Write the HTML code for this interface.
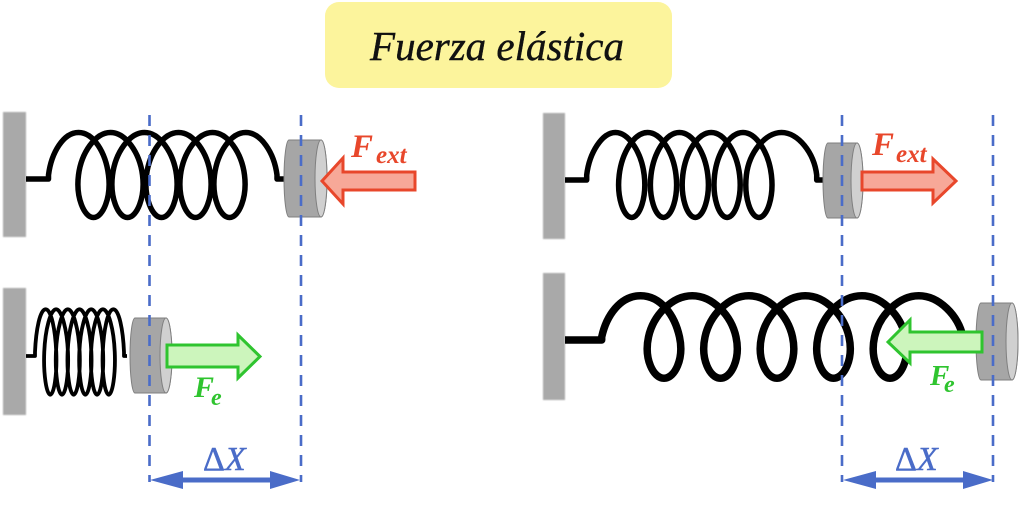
<!DOCTYPE html>
<html><head><meta charset="utf-8"><style>
html,body{margin:0;padding:0;background:#fff;}
svg{display:block;}
text{font-family:"Liberation Serif",serif;}
</style></head><body>
<svg width="1024" height="511" viewBox="0 0 1024 511" xmlns="http://www.w3.org/2000/svg">
<defs>
<filter id="bl" x="-20%" y="-5%" width="140%" height="110%"><feGaussianBlur stdDeviation="0.8"/></filter>
</defs>
<rect x="0" y="0" width="1024" height="511" fill="#fff"/>

<!-- title -->
<rect x="325" y="2" width="347" height="86" rx="14" fill="#fcf49c"/>
<text x="497" y="60" font-size="41" font-style="italic" text-anchor="middle" fill="#111" stroke="#111" stroke-width="0.4">Fuerza elástica</text>

<!-- walls -->
<g fill="#a9a9a9" filter="url(#bl)">
<rect x="3" y="112" width="23" height="125"/>
<rect x="3" y="288" width="23" height="127"/>
<rect x="543" y="113" width="22" height="126"/>
<rect x="543" y="273" width="22" height="127"/>
</g>

<!-- springs -->
<g fill="none" stroke="#000" stroke-linejoin="round">
<path stroke-width="5.5" d="M26,179 H48.5 V175
c2.83,-22.25 14.86,-42.5 30,-42.5 c15.14,0 27.17,20.25 30,42.5
c2.83,22.25 -5.53,42.5 -15,42.5 c-9.47,0 -17.83,-20.25 -15,-42.5
c2.83,-22.25 16.86,-42.5 32,-42.5 c15.14,0 29.17,20.25 32,42.5
c2.83,22.25 -5.53,42.5 -15,42.5 c-9.47,0 -17.83,-20.25 -15,-42.5
c2.83,-22.25 16.86,-42.5 32,-42.5 c15.14,0 29.17,20.25 32,42.5
c2.83,22.25 -5.53,42.5 -15,42.5 c-9.47,0 -17.83,-20.25 -15,-42.5
c2.83,-22.25 16.86,-42.5 32,-42.5 c15.14,0 29.17,20.25 32,42.5
c2.83,22.25 -5.53,42.5 -15,42.5 c-9.47,0 -17.83,-20.25 -15,-42.5
c2.83,-22.25 16.86,-42.5 32,-42.5 c15.14,0 29.17,20.25 32,42.5
c2.83,22.25 -5.53,42.5 -15,42.5 c-9.47,0 -17.83,-20.25 -15,-42.5
c2.83,-22.25 16.11,-42.5 31.25,-42.5 c15.14,0 28.42,20.25 31.25,42.5
V179 H286"/>

<path stroke-width="5.5" d="M565,180 H586.7 V175
c2.65,-22.25 15.39,-42.5 28.75,-42.5 c13.36,0 26.1,20.25 28.75,42.5
c2.65,22.25 -4.44,42.5 -12.5,42.5 c-8.06,0 -15.15,-20.25 -12.5,-42.5
c2.65,-22.25 15.04,-42.5 28.4,-42.5 c13.36,0 25.75,20.25 28.4,42.5
c2.65,22.25 -4.44,42.5 -12.5,42.5 c-8.06,0 -15.15,-20.25 -12.5,-42.5
c2.65,-22.25 15.04,-42.5 28.4,-42.5 c13.36,0 25.75,20.25 28.4,42.5
c2.65,22.25 -4.44,42.5 -12.5,42.5 c-8.06,0 -15.15,-20.25 -12.5,-42.5
c2.65,-22.25 15.04,-42.5 28.4,-42.5 c13.36,0 25.75,20.25 28.4,42.5
c2.65,22.25 -4.44,42.5 -12.5,42.5 c-8.06,0 -15.15,-20.25 -12.5,-42.5
c2.65,-22.25 15.04,-42.5 28.4,-42.5 c13.36,0 25.75,20.25 28.4,42.5
c2.65,22.25 -4.44,42.5 -12.5,42.5 c-8.06,0 -15.15,-20.25 -12.5,-42.5
c2.65,-22.25 18.65,-42.5 35.15,-42.5 c16.5,0 32.5,20.25 35.15,42.5
V180 H825"/>

<path stroke-width="3.8" d="M26,356 H35 V352
c0.97,-22.36 4.99,-42.7 10.625,-42.7 c5.64,0 9.66,20.34 10.625,42.7
c0.97,22.36 -2.3,42.7 -6,42.7 c-3.7,0 -6.97,-20.34 -6,-42.7
c0.97,-22.36 6.21,-42.7 11.85,-42.7 c5.64,0 10.88,20.34 11.85,42.7
c0.97,22.36 -2.3,42.7 -6,42.7 c-3.7,0 -6.97,-20.34 -6,-42.7
c0.97,-22.36 6.21,-42.7 11.85,-42.7 c5.64,0 10.88,20.34 11.85,42.7
c0.97,22.36 -2.3,42.7 -6,42.7 c-3.7,0 -6.97,-20.34 -6,-42.7
c0.97,-22.36 6.21,-42.7 11.85,-42.7 c5.64,0 10.88,20.34 11.85,42.7
c0.97,22.36 -2.3,42.7 -6,42.7 c-3.7,0 -6.97,-20.34 -6,-42.7
c0.97,-22.36 6.21,-42.7 11.85,-42.7 c5.64,0 10.88,20.34 11.85,42.7
c0.97,22.36 -2.3,42.7 -6,42.7 c-3.7,0 -6.97,-20.34 -6,-42.7
c0.97,-22.36 6.21,-42.7 11.85,-42.7 c5.64,0 10.88,20.34 11.85,42.7
c0.97,22.36 -2.3,42.7 -6,42.7 c-3.7,0 -6.97,-20.34 -6,-42.7
c0.97,-22.36 4.99,-42.7 10.625,-42.7 c5.64,0 9.66,20.34 10.625,42.7
V356 H127"/>

<path stroke-width="7.5" d="M565,340 H601.7 V337
c4.71,-21.62 18.67,-41.3 38.9,-41.3 c20.23,0 34.19,19.68 38.9,41.3
c4.71,21.62 -4.69,41.3 -15.5,41.3 c-10.81,0 -20.21,-19.68 -15.5,-41.3
c4.71,-21.62 23.52,-41.3 43.75,-41.3 c20.23,0 39.04,19.68 43.75,41.3
c4.71,21.62 -4.69,41.3 -15.5,41.3 c-10.81,0 -20.21,-19.68 -15.5,-41.3
c4.71,-21.62 23.52,-41.3 43.75,-41.3 c20.23,0 39.04,19.68 43.75,41.3
c4.71,21.62 -4.69,41.3 -15.5,41.3 c-10.81,0 -20.21,-19.68 -15.5,-41.3
c4.71,-21.62 23.52,-41.3 43.75,-41.3 c20.23,0 39.04,19.68 43.75,41.3
c4.71,21.62 -4.69,41.3 -15.5,41.3 c-10.81,0 -20.21,-19.68 -15.5,-41.3
c4.71,-21.62 23.52,-41.3 43.75,-41.3 c20.23,0 39.04,19.68 43.75,41.3
c4.71,21.62 -4.69,41.3 -15.5,41.3 c-10.81,0 -20.21,-19.68 -15.5,-41.3
c4.71,-21.62 24.02,-41.3 44.25,-41.3 c20.23,0 39.54,19.68 44.25,41.3"/>
</g>

<!-- blocks (cylinders) -->
<g stroke="#7f7f7f" stroke-width="1">
<path fill="#a6a6a6" d="M289,140 H321 A6,38.5 0 0 1 321,217 H289 A5,38.5 0 0 1 289,140 Z"/>
<ellipse cx="321" cy="178.5" rx="6" ry="38.5" fill="#d0d0d0"/>
<path fill="#a6a6a6" d="M828,143 H857 A6,37.5 0 0 1 857,218 H828 A5,37.5 0 0 1 828,143 Z"/>
<ellipse cx="857" cy="180.5" rx="6" ry="37.5" fill="#d0d0d0"/>
<path fill="#a6a6a6" d="M135,318 H166 A6,37.5 0 0 1 166,393 H135 A5,37.5 0 0 1 135,318 Z"/>
<ellipse cx="166" cy="355.5" rx="6" ry="37.5" fill="#d0d0d0"/>
<path fill="#a6a6a6" d="M981,303 H1012 A6,38.5 0 0 1 1012,380 H981 A5,38.5 0 0 1 981,303 Z"/>
<ellipse cx="1012" cy="341.5" rx="6" ry="38.5" fill="#d0d0d0"/>
</g>

<!-- dashed reference lines -->
<g stroke="#4a6cc8" stroke-width="2.6" stroke-dasharray="11 9" fill="none">
<line x1="149.5" y1="115" x2="149.5" y2="482"/>
<line x1="301" y1="115" x2="301" y2="482"/>
<line x1="842" y1="115" x2="842" y2="482"/>
<line x1="993" y1="115" x2="993" y2="482"/>
</g>

<!-- force arrows -->
<g stroke-width="3" stroke-linejoin="miter">
<polygon fill="#f7a898" stroke="#e8472b" points="322,181 343,158 343,172 415,172 415,190 343,190 343,204"/>
<polygon fill="#f7a898" stroke="#e8472b" points="862,172 933,172 933,159 956,181 933,203 933,190 862,190"/>
<polygon fill="#ccf5bc" stroke="#2fc42f" points="167,345 238,345 238,335 260,356.5 238,378 238,367 167,367"/>
<polygon fill="#ccf5bc" stroke="#2fc42f" points="888,342 910,320 910,332 982,332 982,352 910,352 910,363"/>
</g>

<!-- force labels -->
<g font-weight="bold" font-style="italic">
<text x="351" y="157" font-size="33" fill="#e8472b">F</text>
<text x="376" y="163" font-size="25" fill="#e8472b">ext</text>
<text x="872" y="155" font-size="33" fill="#e8472b">F</text>
<text x="896" y="162" font-size="25" fill="#e8472b">ext</text>
<text x="194" y="397" font-size="30" fill="#2fc42f">F</text>
<text x="211" y="405" font-size="24" fill="#2fc42f">e</text>
<text x="930" y="385" font-size="29" fill="#2fc42f">F</text>
<text x="944" y="392" font-size="24" fill="#2fc42f">e</text>
</g>

<!-- delta X arrows -->
<g fill="#4a6cc8">
<polygon points="150,480 183,471 183,477.5 270,477.5 270,471 300,480 270,489 270,482.5 183,482.5 183,489"/>
<polygon points="843,480 876,471 876,477.5 963,477.5 963,471 993,480 963,489 963,482.5 876,482.5 876,489"/>
</g>
<text x="203" y="470" font-size="34" fill="#4a6cc8" stroke="#4a6cc8" stroke-width="0.5">Δ<tspan font-style="italic">X</tspan></text>
<text x="895" y="470" font-size="34" fill="#4a6cc8" stroke="#4a6cc8" stroke-width="0.5">Δ<tspan font-style="italic">X</tspan></text>
</svg>
</body></html>
